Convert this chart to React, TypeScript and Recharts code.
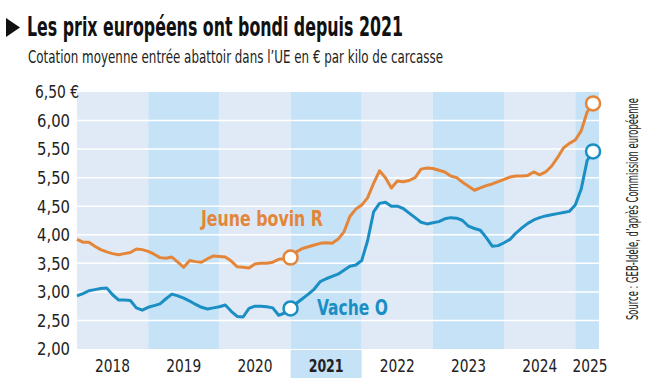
import React from 'react'
import {
  LineChart,
  Line,
  XAxis,
  YAxis,
  ReferenceArea,
  ReferenceLine,
} from 'recharts'

// mois depuis janvier 2018
const bovinR = [
  3.92, 3.87, 3.87, 3.8, 3.74, 3.7, 3.67, 3.65, 3.67, 3.69, 3.75, 3.74,
  3.71, 3.66, 3.6, 3.59, 3.61, 3.52, 3.43, 3.55, 3.53, 3.52, 3.58, 3.63,
  3.62, 3.61, 3.54, 3.44, 3.43, 3.42, 3.49, 3.5, 3.5, 3.52, 3.57, 3.58,
  3.6, 3.7, 3.76, 3.79, 3.82, 3.85, 3.86, 3.85, 3.92, 4.05, 4.32, 4.45,
  4.52, 4.65, 4.9, 5.12, 5.0, 4.82, 4.94, 4.93, 4.95, 5.0, 5.15, 5.17,
  5.16, 5.13, 5.1, 5.03, 5.0, 4.92, 4.85, 4.78, 4.82, 4.86, 4.89, 4.93,
  4.97, 5.01, 5.03, 5.03, 5.04, 5.1, 5.05, 5.1, 5.2, 5.35, 5.52, 5.6,
  5.66, 5.82, 6.15, 6.3,
]

const vacheO = [
  2.93, 2.97, 3.02, 3.04, 3.06, 3.07, 2.95, 2.86, 2.86, 2.85, 2.72, 2.68,
  2.73, 2.76, 2.79, 2.88, 2.96, 2.93, 2.89, 2.84, 2.78, 2.73, 2.7, 2.72,
  2.74, 2.77, 2.66, 2.57, 2.56, 2.71, 2.75, 2.75, 2.74, 2.72, 2.59, 2.63,
  2.71, 2.8, 2.88, 2.96, 3.05, 3.18, 3.23, 3.27, 3.31, 3.38, 3.45, 3.47,
  3.55, 3.9, 4.4, 4.55, 4.57, 4.5, 4.5, 4.46, 4.38, 4.3, 4.22, 4.19,
  4.21, 4.23, 4.28, 4.3, 4.29, 4.25, 4.15, 4.11, 4.08, 3.95, 3.8, 3.81,
  3.86, 3.92, 4.03, 4.12, 4.2, 4.26, 4.3, 4.33, 4.35, 4.37, 4.39, 4.41,
  4.52, 4.8, 5.3, 5.46,
]

const yearLabels = ['2018', '2019', '2020', '2021', '2022', '2023', '2024', '2025']
const yearStarts = [0, 12, 24, 36, 48, 60, 72, 84]
const yearEnd = 88
const yearTicks = [6, 18, 30, 42, 54, 66, 78, 86.5]

const yTicks = [2, 2.5, 3, 3.5, 4, 4.5, 5, 5.5, 6, 6.5]
const yLabels = ['2,00', '2,50', '3,00', '3,50', '4,00', '4,50', '5,50', '5,50', '6,00', '6,50 €']

const markedPoints = [36, 87]

const data = bovinR.map((v, i) => ({ mois: i, bovin: v, vache: vacheO[i] }))

const ORANGE = '#e3863a'
const BLUE = '#1b8fc4'
const BAND_LIGHT = '#dfeaf6'
const BAND_DARK = '#c6e2f6'
const FONT = "'DejaVu Sans Condensed', 'Liberation Sans Narrow', sans-serif"

function YTick(props: any) {
  const { x, y, payload } = props
  const i = yTicks.indexOf(payload.value)
  const last = i === yTicks.length - 1
  return (
    <text
      x={last ? x + 9 : x}
      y={y}
      dy="0.35em"
      textAnchor="end"
      fontFamily={FONT}
      fontSize={18}
      fill="#222"
      textLength={last ? 44 : 33}
      lengthAdjust="spacingAndGlyphs"
    >
      {yLabels[i]}
    </text>
  )
}

function XTick(props: any) {
  const { x, y, payload } = props
  const i = yearTicks.indexOf(payload.value)
  const bold = yearLabels[i] === '2021'
  return (
    <g>
      {bold && <rect x={x - 35.5} y={y + 1} width={71} height={28} fill={BAND_DARK} />}
      <text
        x={x}
        y={y + 23}
        textAnchor="middle"
        fontFamily={FONT}
        fontSize={18}
        fontWeight={bold ? 700 : 400}
        fill="#222"
        textLength={35}
        lengthAdjust="spacingAndGlyphs"
      >
        {yearLabels[i]}
      </text>
    </g>
  )
}

function makeDot(color: string) {
  return (props: any) => {
    const { cx, cy, index } = props
    if (!markedPoints.includes(index)) return <g key={index} />
    return <circle key={index} cx={cx} cy={cy} r={7} fill="#fff" stroke={color} strokeWidth={2.5} />
  }
}

export default function App() {
  return (
    <div style={{ position: 'absolute', left: 0, top: 0, width: 661, height: 388, background: '#fff' }}>
      <LineChart width={661} height={388} data={data} margin={{ top: 92, right: 62, bottom: 0, left: 0 }}>
        {yearStarts.map((s, i) => (
          <ReferenceArea
            key={s}
            x1={s}
            x2={yearStarts[i + 1] ?? yearEnd}
            y1={2}
            y2={6.5}
            fill={i % 2 === 0 ? BAND_LIGHT : BAND_DARK}
            fillOpacity={1}
            stroke="none"
          />
        ))}
        {yTicks.slice(1, -1).map((t) => (
          <ReferenceLine key={t} y={t} stroke="#fff" strokeWidth={1.5} />
        ))}
        <XAxis
          dataKey="mois"
          type="number"
          domain={[0, yearEnd]}
          ticks={yearTicks}
          interval={0}
          height={39}
          axisLine={false}
          tickLine={false}
          tickSize={0}
          tickMargin={0}
          tick={<XTick />}
        />
        <YAxis
          type="number"
          domain={[2, 6.5]}
          ticks={yTicks}
          interval={0}
          width={77}
          axisLine={false}
          tickLine={false}
          tickSize={0}
          tickMargin={7}
          tick={<YTick />}
        />
        <Line
          dataKey="bovin"
          type="linear"
          stroke={ORANGE}
          strokeWidth={3}
          strokeLinejoin="round"
          dot={makeDot(ORANGE)}
          activeDot={false}
          isAnimationActive={false}
        />
        <Line
          dataKey="vache"
          type="linear"
          stroke={BLUE}
          strokeWidth={3}
          strokeLinejoin="round"
          dot={makeDot(BLUE)}
          activeDot={false}
          isAnimationActive={false}
        />
      </LineChart>
      <svg width={661} height={388} style={{ position: 'absolute', left: 0, top: 0, pointerEvents: 'none' }}>
        <polygon points="6,18 6,37 20,27.5" fill="#111" />
        <text x={27} y={36} fontFamily={FONT} fontSize={26} fontWeight={700} fill="#111" textLength={376} lengthAdjust="spacingAndGlyphs">
          Les prix européens ont bondi depuis 2021
        </text>
        <text x={28} y={63} fontFamily={FONT} fontSize={18} fill="#222" textLength={415} lengthAdjust="spacingAndGlyphs">
          Cotation moyenne entrée abattoir dans l’UE en € par kilo de carcasse
        </text>
        <text x={201} y={226} fontFamily={FONT} fontSize={21} fontWeight={700} fill={ORANGE} textLength={122} lengthAdjust="spacingAndGlyphs">
          Jeune bovin R
        </text>
        <text x={317} y={315} fontFamily={FONT} fontSize={21} fontWeight={700} fill={BLUE} textLength={71} lengthAdjust="spacingAndGlyphs">
          Vache O
        </text>
        <g transform="translate(638,320) rotate(-90)">
          <text x={0} y={0} fontFamily={FONT} fontSize={15} fill="#222" textLength={222} lengthAdjust="spacingAndGlyphs">
            Source : GEB-Idele, d’après Commission européenne
          </text>
        </g>
      </svg>
    </div>
  )
}
